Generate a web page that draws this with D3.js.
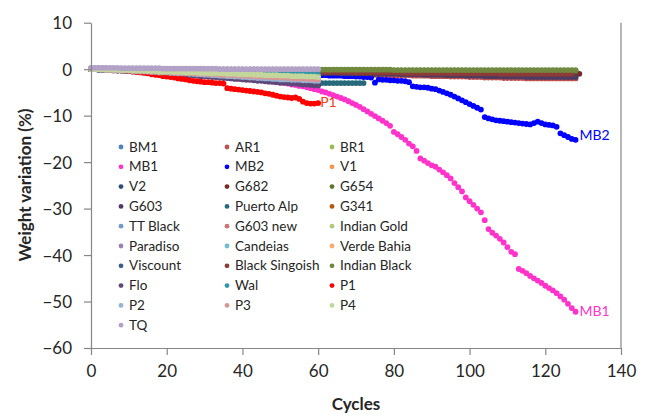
<!DOCTYPE html>
<html><head><meta charset="utf-8">
<script src="https://cdn.jsdelivr.net/npm/d3@7"></script>
<style>body{margin:0;background:#fff}svg{display:block;font-family:Lato,"Open Sans",sans-serif}</style>
</head><body><svg id="c" width="646" height="417"></svg>
<script>
// ---- data: weight variation (%) per cycle, index = cycle number ----
const seriesNames = ["BM1","AR1","BR1","MB1","MB2","V1","V2","G682","G654","G603","Puerto Alp","G341","TT Black","G603 new","Indian Gold","Paradiso","Candeias","Verde Bahia","Viscount","Black Singoish","Indian Black","Flo","Wal","P1","P2","P3","P4","TQ"];
const seriesColors = ["#4F81BD","#C0504D","#9BBB59","#FF33CC","#0000FF","#F79646","#2C4D75","#772C2A","#5F7530","#4D3B62","#276A7C","#B65708","#729ACA","#CD7371","#AFC97A","#9983B5","#6FBDD1","#F9AB6B","#3A5F8B","#8E3B38","#71893F","#5E4878","#3296AB","#FF0000","#95B3D7","#D99694","#C3D69B","#B3A2C7"];
const xTicks = [0,20,40,60,80,100,120,140];
const yTicks = [10,0,-10,-20,-30,-40,-50,-60];

const BM1 = [0,0,0,0,0,0,-.1,-.1,-.1,-.1,-.1,-.2,-.2,-.2,-.2,-.2,-.3,-.3,-.3,-.3,-.3,-.4,-.4,-.4,-.4,-.4,-.5,-.5,-.5,-.5,-.5,-.6,-.6,-.6,-.6,-.6,-.7,-.7,-.7,-.7,-.7,-.8,-.8,-.8,-.8,-.8,-.8,-.9,-.9,-.9,-.9,-.9,-.9,-1,-1,-1,-1,-1,-1,-1,-1];
const AR1 = [0,0,0,0,0,0,0,-.1,-.1,-.1,-.1,-.1,-.1,-.2,-.2,-.2,-.2,-.2,-.3,-.3,-.3,-.3,-.3,-.4,-.4,-.4,-.4,-.4,-.5,-.5,-.5,-.5,-.5,-.6,-.6,-.6,-.6,-.6,-.7,-.7,-.7,-.7,-.7,-.7,-.8,-.8,-.8,-.8,-.8,-.8,-.9,-.9,-.9,-.9,-.9,-.9,-1,-1,-1,-1,-1,-1,-1,-1,-1.1,-1.1,-1.1,-1.1,-1.1,-1.1,-1.1,-1.1,-1.2,-1.2,-1.2,-1.2,-1.2,-1.2,-1.2,-1.3,-1.3,-1.3,-1.3,-1.3,-1.3,-1.4,-1.4,-1.4,-1.4,-1.4,-1.5,-1.5,-1.5,-1.5,-1.5,-1.6,-1.6,-1.6,-1.6,-1.6,-1.7,-1.7,-1.7,-1.7,-1.8,-1.8,-1.8,-1.8,-1.8,-1.9,-1.9,-1.9,-1.9,-1.9,-1.9,-2,-2,-2,-2,-2,-2,-2,-2,-2,-2,-2,-2,-2,-2];
const BR1 = [0,0,0,0,0,0,0,0,0,0,0,0,0,0,0,0,0,0,0,0,0,0,0,0,0,-.1,-.1,-.1,-.1,-.1,-.1,-.1,-.1,-.1,-.1,-.1,-.1,-.1,-.1,-.1,-.1,-.1,-.1,-.1,-.1,-.2,-.2,-.2,-.2,-.2,-.2,-.2,-.2,-.2,-.2,-.2,-.2,-.2,-.2,-.2,-.2,-.2,-.2,-.2,-.2,-.2,-.2,-.2,-.2,-.2,-.2,-.2,-.2,-.2,-.2,-.3,-.3,-.3,-.3,-.3,-.3,-.3,-.3,-.3,-.3,-.3,-.3,-.3,-.3,-.3,-.3,-.3,-.3,-.3,-.3,-.3,-.3,-.3,-.3,-.3,-.3,-.3,-.3,-.3,-.3,-.3,-.3,-.3,-.3,-.3,-.3,-.3,-.3,-.3,-.3,-.3,-.3,-.3,-.3,-.3,-.3,-.3,-.3,-.3,-.3,-.3,-.3,-.3,-.3];
const MB1 = [0,0,.1,.1,0,0,-.1,-.1,-.2,-.2,-.3,-.3,-.4,-.4,-.5,-.5,-.6,-.6,-.7,-.8,-.8,-.9,-.9,-1,-1,-1.1,-1.2,-1.2,-1.3,-1.3,-1.4,-1.5,-1.5,-1.6,-1.7,-1.7,-1.8,-1.9,-1.9,-2,-2.1,-2.1,-2.2,-2.3,-2.3,-2.4,-2.5,-2.6,-2.7,-2.8,-2.9,-3,-3.1,-3.3,-3.4,-3.6,-3.7,-3.9,-4.1,-4.3,-4.5,-4.8,-5,-5.3,-5.6,-5.9,-6.2,-6.5,-6.9,-7.3,-7.7,-8.1,-8.6,-9.1,-9.6,-10.1,-10.6,-11.1,-11.6,-12.2,-13.5,-14,-14.6,-15.2,-16,-16.6,-17.6,-19.2,-19.7,-20.2,-20.7,-21,-21.6,-22.2,-22.8,-23.5,-24.5,-25.4,-26.3,-27.6,-28.4,-29.2,-30,-30.8,-32.5,-34.4,-35.2,-35.8,-36.5,-37.3,-38.3,-39.3,-39.8,-43,-43.4,-43.9,-44.5,-45,-45.5,-46,-46.6,-47.1,-47.6,-48.2,-48.9,-49.6,-50.5,-51.4,-52.2];
const MB2 = [0,0,0,0,0,-.1,-.1,-.1,-.1,-.1,-.2,-.2,-.2,-.2,-.3,-.3,-.3,-.3,-.4,-.4,-.4,-.4,-.5,-.5,-.5,-.5,-.6,-.6,-.6,-.6,-.7,-.7,-.7,-.7,-.8,-.8,-.8,-.8,-.9,-.9,-.9,-.9,-1,-1,-1,-1,-1,-1.1,-1.1,-1.1,-1.1,-1.1,-1.2,-1.2,-1.2,-1.2,-1.2,-1.2,-1.3,-1.3,-1.3,-1.3,-1.3,-1.4,-1.4,-1.4,-1.4,-1.5,-1.5,-1.5,-1.6,-1.6,-1.7,-1.7,-1.8,-2.9,-2.2,-2.3,-2.3,-2.4,-2.4,-2.5,-2.5,-2.6,-2.8,-3.7,-3.8,-3.9,-3.9,-4,-4.2,-4.3,-4.6,-4.9,-5.2,-5.5,-5.9,-6.3,-6.7,-7.1,-7.5,-7.9,-8.3,-8.7,-10.3,-10.6,-10.8,-11,-11.1,-11.2,-11.3,-11.4,-11.5,-11.6,-11.7,-11.8,-11.9,-11.6,-11.3,-11.6,-11.9,-12,-12.1,-12.4,-13.8,-14.2,-14.6,-15,-15.2];
const V1 = [.1,.1,.1,.1,.1,.1,.1,0,0,0,0,0,0,0,0,0,0,0,0,0,-.1,-.1,-.1,-.1,-.1,-.1,-.1,-.1,-.1,-.1,-.1,-.1,-.1,-.1,-.2,-.2,-.2,-.2,-.2,-.2,-.2,-.2,-.2,-.2,-.2,-.2,-.2,-.3,-.3,-.3,-.3,-.3,-.3,-.3,-.3,-.3,-.3,-.3,-.3,-.3,-.3];
const V2 = [0,0,0,0,0,0,0,0,0,-.1,-.1,-.1,-.1,-.1,-.1,-.1,-.1,-.1,-.1,-.2,-.2,-.2,-.2,-.2,-.2,-.2,-.2,-.2,-.2,-.3,-.3,-.3,-.3,-.3,-.3,-.3,-.3,-.3,-.3,-.4,-.4,-.4,-.4,-.4,-.4,-.4,-.4,-.4,-.4,-.5,-.5,-.5,-.5,-.5,-.5,-.5,-.5,-.5,-.5,-.5,-.5,-.5,-.5,-.5,-.6,-.6,-.6,-.6,-.6,-.6,-.6,-.6,-.6,-.6,-.6,-.6,-.6,-.6,-.6,-.6,-.7,-.7,-.7,-.7,-.7,-.7,-.7,-.7,-.7,-.7,-.7,-.7,-.7,-.7,-.7,-.7,-.7,-.7,-.7,-.7,-.8,-.8,-.8,-.8,-.8,-.8,-.8,-.8,-.8,-.8,-.8,-.8,-.8,-.8,-.8,-.8,-.8,-.8,-.8,-.8,-.8,-.8,-.8,-.8,-.8,-.8,-.8,-.8,-.8];
const G682 = [0,0,0,0,0,0,0,0,0,0,0,0,-.1,-.1,-.1,-.1,-.1,-.1,-.1,-.1,-.1,-.1,-.1,-.1,-.2,-.2,-.2,-.2,-.2,-.2,-.2,-.2,-.2,-.2,-.2,-.2,-.3,-.3,-.3,-.3,-.3,-.3,-.3,-.3,-.3,-.3,-.3,-.3,-.4,-.4,-.4,-.4,-.4,-.4,-.4,-.4,-.4,-.4,-.4,-.5,-.5,-.5,-.5,-.5,-.5,-.5,-.5,-.5,-.5,-.5,-.5,-.5,-.5,-.5,-.6,-.6,-.6,-.6,-.6,-.6,-.6,-.6,-.6,-.6,-.6,-.7,-.7,-.7,-.7,-.7,-.7,-.7,-.7,-.7,-.7,-.8,-.8,-.8,-.8,-.8,-.8,-.8,-.8,-.8,-.8,-.8,-.9,-.9,-.9,-.9,-.9,-.9,-.9,-.9,-.9,-.9,-1,-1,-1,-1,-1,-1,-1,-1,-1,-1,-1,-1,-1,-1];
const G654 = [0,0,0,0,0,0,0,0,0,0,0,0,0,0,0,-.1,-.1,-.1,-.1,-.1,-.1,-.1,-.1,-.1,-.1,-.1,-.1,-.1,-.1,-.1,-.1,-.1,-.1,-.1,-.1,-.1,-.1,-.1,-.1,-.1,-.2,-.2,-.2,-.2,-.2,-.2,-.2,-.2,-.2,-.2,-.2,-.2,-.2,-.2,-.2,-.2,-.2,-.2,-.2,-.2,-.2,-.2,-.2,-.2,-.2,-.2,-.2,-.2,-.2,-.2,-.3,-.3,-.3,-.3,-.3,-.3,-.3,-.3,-.3,-.3,-.3,-.3,-.3,-.3,-.3,-.3,-.3,-.3,-.3,-.3,-.3,-.3,-.3,-.3,-.3,-.3,-.3,-.3,-.3,-.3,-.4,-.4,-.4,-.4,-.4,-.4,-.4,-.4,-.4,-.4,-.4,-.4,-.4,-.4,-.4,-.4,-.4,-.4,-.4,-.4,-.4,-.4,-.4,-.4,-.4,-.4,-.4,-.4,-.4];
const G603 = [0,0,0,0,0,0,0,0,0,0,-.1,-.1,-.1,-.1,-.1,-.1,-.1,-.1,-.1,-.2,-.2,-.2,-.2,-.2,-.2,-.2,-.2,-.3,-.3,-.3,-.3,-.3,-.3,-.3,-.3,-.4,-.4,-.4,-.4,-.4,-.4,-.4,-.5,-.5,-.5,-.5,-.5,-.5,-.5,-.6,-.6,-.6,-.6,-.6,-.6,-.7,-.7,-.7,-.7,-.7,-.8,-.8,-.8,-.8,-.8,-.8,-.9,-.9,-.9,-.9,-.9,-.9,-.9,-.9,-.9,-1,-1,-1,-1,-1,-1,-1,-1.1,-1.1,-1.1,-1.1,-1.1,-1.1,-1.2,-1.2,-1.2,-1.2,-1.2,-1.2,-1.3,-1.3,-1.3,-1.3,-1.3,-1.4,-1.4,-1.4,-1.4,-1.4,-1.5,-1.5,-1.5,-1.5,-1.5,-1.6,-1.6,-1.6,-1.6,-1.6,-1.6,-1.7,-1.7,-1.7,-1.7,-1.7,-1.7,-1.7,-1.7,-1.7,-1.7,-1.7,-1.7,-1.7,-1.7];
const PuertoAlp = [0,0,0,-.1,-.1,-.1,-.2,-.2,-.2,-.3,-.3,-.3,-.4,-.4,-.5,-.5,-.5,-.6,-.6,-.7,-.7,-.7,-.8,-.8,-.9,-.9,-1,-1,-1.1,-1.1,-1.2,-1.2,-1.3,-1.3,-1.4,-1.4,-1.5,-1.5,-1.6,-1.6,-1.7,-1.8,-1.8,-1.9,-2,-2,-2.1,-2.2,-2.2,-2.3,-2.4,-2.4,-2.5,-2.6,-2.6,-2.7,-2.8,-2.8,-2.9,-2.9,-3,-3,-3,-3,-3,-3,-3,-3,-3,-3,-3,-3,-3];
const G341 = [0,0,0,0,0,0,0,0,0,0,0,0,-.1,-.1,-.1,-.1,-.1,-.1,-.1,-.1,-.1,-.1,-.2,-.2,-.2,-.2,-.2,-.2,-.2,-.2,-.2,-.2,-.3,-.3,-.3,-.3,-.3,-.3,-.3,-.3,-.3,-.4,-.4,-.4,-.4,-.4,-.4,-.4,-.4,-.4,-.4,-.5,-.5,-.5,-.5,-.5,-.5,-.5,-.5,-.5,-.5];
const TTBlack = [0,0,0,0,0,0,0,-.1,-.1,-.1,-.1,-.1,-.1,-.1,-.2,-.2,-.2,-.2,-.2,-.2,-.3,-.3,-.3,-.3,-.3,-.3,-.3,-.4,-.4,-.4,-.4,-.4,-.4,-.5,-.5,-.5,-.5,-.5,-.5,-.5,-.6,-.6,-.6,-.6,-.6,-.6,-.6,-.7,-.7,-.7,-.7,-.7,-.7,-.7,-.8,-.8,-.8,-.8,-.8,-.8,-.8];
const G603new = [0,0,0,-.1,-.1,-.1,-.2,-.2,-.2,-.3,-.3,-.3,-.4,-.4,-.4,-.5,-.5,-.6,-.6,-.6,-.7,-.7,-.8,-.8,-.8,-.9,-.9,-1,-1,-1,-1.1,-1.1,-1.2,-1.2,-1.3,-1.3,-1.3,-1.4,-1.4,-1.5,-1.5,-1.5,-1.6,-1.6,-1.7,-1.7,-1.7,-1.8,-1.8,-1.9,-1.9,-1.9,-2,-2,-2.1,-2.1,-2.1,-2.2,-2.2,-2.3,-2.3];
const IndianGold = [0,0,0,0,0,-.1,-.1,-.1,-.1,-.2,-.2,-.2,-.2,-.3,-.3,-.3,-.3,-.4,-.4,-.4,-.4,-.5,-.5,-.5,-.5,-.6,-.6,-.6,-.6,-.7,-.7,-.7,-.7,-.8,-.8,-.8,-.8,-.9,-.9,-.9,-.9,-1,-1,-1,-1,-1.1,-1.1,-1.1,-1.1,-1.2,-1.2,-1.2,-1.2,-1.2,-1.3,-1.3,-1.3,-1.3,-1.3,-1.3,-1.3];
const Paradiso = [.2,.2,.2,.2,.2,.1,.1,.1,.1,.1,.1,.1,.1,.1,.1,0,0,0,0,0,0,0,0,0,0,0,0,0,0,0,-.1,-.1,-.1,-.1,-.1,-.1,-.1,-.1,-.1,-.1,-.2,-.2,-.2,-.2,-.2,-.2,-.2,-.2,-.2,-.2,-.2,-.3,-.3,-.3,-.3,-.3,-.3,-.3,-.3,-.3,-.3];
const Candeias = [0,0,0,0,0,0,-.1,-.1,-.1,-.1,-.1,-.2,-.2,-.2,-.2,-.2,-.3,-.3,-.3,-.3,-.3,-.4,-.4,-.4,-.4,-.4,-.5,-.5,-.5,-.5,-.5,-.6,-.6,-.6,-.6,-.6,-.7,-.7,-.7,-.7,-.7,-.8,-.8,-.8,-.8,-.8,-.9,-.9,-.9,-.9,-.9,-1,-1,-1,-1,-1,-1.1,-1.1,-1.1,-1.1,-1.1];
const VerdeBahia = [0,0,0,0,-.1,-.1,-.1,-.2,-.2,-.2,-.3,-.3,-.3,-.4,-.4,-.4,-.5,-.5,-.5,-.6,-.6,-.6,-.7,-.7,-.7,-.8,-.8,-.8,-.9,-.9,-.9,-1,-1,-1,-1.1,-1.1,-1.1,-1.2,-1.2,-1.2,-1.3,-1.3,-1.3,-1.4,-1.4,-1.4,-1.5,-1.5,-1.5,-1.6,-1.6,-1.6,-1.7,-1.7,-1.7,-1.8,-1.8,-1.8,-1.9,-1.9,-2];
const Viscount = [0,0,-.1,-.1,-.1,-.2,-.2,-.3,-.3,-.3,-.4,-.4,-.5,-.5,-.6,-.6,-.7,-.7,-.8,-.8,-.9,-.9,-1,-1,-1.1,-1.1,-1.2,-1.2,-1.3,-1.3,-1.4,-1.5,-1.5,-1.6,-1.6,-1.7,-1.8,-1.8,-1.9,-1.9,-2,-2.1,-2.1,-2.2,-2.3,-2.3,-2.4,-2.5,-2.5,-2.6,-2.7,-2.7,-2.8,-2.9,-2.9,-3,-3.1,-3.1,-3.2,-3.3,-3.3];
const BlackSingoish = [0,0,0,0,0,0,0,0,0,0,0,0,0,0,-.1,-.1,-.1,-.1,-.1,-.1,-.1,-.1,-.1,-.1,-.1,-.1,-.2,-.2,-.2,-.2,-.2,-.2,-.2,-.2,-.2,-.2,-.3,-.3,-.3,-.3,-.3,-.3,-.3,-.3,-.3,-.4,-.4,-.4,-.4,-.4,-.4,-.4,-.4,-.5,-.5,-.5,-.5,-.5,-.5,-.6,-.6,-.6,-.6,-.6,-.6,-.6,-.6,-.6,-.6,-.6,-.7,-.7,-.7,-.7,-.7,-.7,-.7,-.7,-.7,-.7,-.7,-.7,-.7,-.8,-.8,-.8,-.8,-.8,-.8,-.8,-.8,-.8,-.8,-.8,-.8,-.9,-.9,-.9,-.9,-.9,-.9,-.9,-.9,-.9,-.9,-.9,-.9,-.9,-1,-1,-1,-1,-1,-1,-1,-1,-1,-1,-1,-1,-1,-1,-1,-1,-1,-1,-1,-1];
const IndianBlack = [0,0,0,0,0,0,0,0,0,0,0,0,0,0,0,0,0,0,0,0,0,0,0,0,0,0,0,0,0,0,-.1,-.1,-.1,-.1,-.1,-.1,-.1,-.1,-.1,-.1,-.1,-.1,-.1,-.1,-.1,-.1,-.1,-.1,-.1,-.1,-.1,-.1,-.1,-.1,-.1,-.1,-.1,-.1,-.1,-.1,-.1,-.1,-.1,-.1,-.1,-.1,-.1,-.1,-.1,-.1,-.1,-.1,-.1,-.1,-.1,-.1,-.1,-.1,-.1,-.1,-.2,-.2,-.2,-.2,-.2,-.2,-.2,-.2,-.2,-.2,-.2,-.2,-.2,-.2,-.2,-.2,-.2,-.2,-.2,-.2,-.2,-.2,-.2,-.2,-.2,-.2,-.2,-.2,-.2,-.2,-.2,-.2,-.2,-.2,-.2,-.2,-.2,-.2,-.2,-.2,-.2,-.2,-.2,-.2,-.2,-.2,-.2,-.2,-.2];
const Flo = [0,0,-.1,-.1,-.2,-.2,-.3,-.3,-.3,-.4,-.4,-.5,-.5,-.6,-.6,-.7,-.7,-.8,-.8,-.9,-.9,-1,-1,-1.1,-1.2,-1.2,-1.3,-1.3,-1.4,-1.5,-1.5,-1.6,-1.7,-1.7,-1.8,-1.9,-1.9,-2,-2.1,-2.1,-2.2,-2.3,-2.3,-2.4,-2.5,-2.5,-2.6,-2.7,-2.7,-2.8,-2.9,-2.9,-3,-3.1,-3.1,-3.2,-3.3,-3.3,-3.4,-3.5,-3.5];
const Wal = [0,0,0,0,0,-.1,-.1,-.1,-.1,-.1,-.2,-.2,-.2,-.2,-.2,-.3,-.3,-.3,-.3,-.3,-.4,-.4,-.4,-.4,-.4,-.5,-.5,-.5,-.5,-.5,-.6,-.6,-.6,-.6,-.6,-.7,-.7,-.7,-.7,-.7,-.8,-.8,-.8,-.8,-.8,-.9,-.9,-.9,-.9,-1,-1,-1,-1,-1.1,-1.1,-1.1,-1.1,-1.2,-1.2,-1.2,-1.2];
const P1 = [0,0,0,0,-.1,-.1,-.2,-.2,-.3,-.3,-.4,-.5,-.6,-.7,-.8,-.9,-1.1,-1.2,-1.3,-1.5,-1.6,-1.7,-1.8,-2,-2.1,-2.2,-2.4,-2.5,-2.6,-2.7,-2.8,-2.8,-2.9,-3,-3,-3.1,-4.1,-4.2,-4.3,-4.4,-4.5,-4.6,-4.7,-4.8,-4.9,-5,-5.2,-5.3,-5.5,-5.7,-5.9,-6,-6.1,-6.2,-6.1,-6.4,-7,-7.3,-7.4,-7.4,-7.3];
const P2 = [0,0,0,-.1,-.1,-.1,-.2,-.2,-.3,-.3,-.3,-.4,-.4,-.5,-.5,-.5,-.6,-.6,-.7,-.7,-.7,-.8,-.8,-.9,-.9,-.9,-1,-1,-1.1,-1.1,-1.2,-1.2,-1.3,-1.3,-1.4,-1.4,-1.5,-1.5,-1.6,-1.6,-1.7,-1.7,-1.8,-1.8,-1.9,-1.9,-2,-2,-2.1,-2.1,-2.2,-2.2,-2.2,-2.3,-2.3,-2.3,-2.4,-2.4,-2.4,-2.5,-2.5];
const P3 = [0,0,0,0,-.1,-.1,-.1,-.2,-.2,-.2,-.3,-.3,-.3,-.4,-.4,-.4,-.5,-.5,-.5,-.6,-.6,-.6,-.7,-.7,-.8,-.8,-.8,-.9,-.9,-1,-1,-1,-1.1,-1.1,-1.2,-1.2,-1.2,-1.3,-1.3,-1.4,-1.4,-1.4,-1.5,-1.5,-1.6,-1.6,-1.6,-1.7,-1.7,-1.8,-1.8,-1.8,-1.9,-1.9,-2,-2,-2,-2.1,-2.1,-2.2,-2.2];
const P4 = [0,0,0,0,-.1,-.1,-.1,-.1,-.2,-.2,-.2,-.3,-.3,-.3,-.3,-.4,-.4,-.4,-.5,-.5,-.5,-.5,-.6,-.6,-.6,-.7,-.7,-.7,-.7,-.8,-.8,-.8,-.9,-.9,-.9,-.9,-1,-1,-1,-1.1,-1.1,-1.1,-1.1,-1.2,-1.2,-1.2,-1.3,-1.3,-1.3,-1.3,-1.4,-1.4,-1.4,-1.5,-1.5,-1.5,-1.5,-1.6,-1.6,-1.6,-1.7];
const TQ = [.2,.3,.3,.3,.3,.3,.3,.3,.2,.2,.2,.2,.2,.2,.2,.2,.2,.2,.2,.1,.1,.1,.1,.1,.1,.1,.1,.1,.1,.1,.1,.1,.1,.1,0,0,0,0,0,0,0,0,0,0,0,0,0,0,0,0,0,0,0,0,0,0,0,0,0,0,0];

const seriesValues = [BM1,AR1,BR1,MB1,MB2,V1,V2,G682,G654,G603,PuertoAlp,G341,TTBlack,G603new,IndianGold,Paradiso,Candeias,VerdeBahia,Viscount,BlackSingoish,IndianBlack,Flo,Wal,P1,P2,P3,P4,TQ];
const endLabels = [{name:"MB1",color:"#FF33CC"},{name:"MB2",color:"#0000FF"},{name:"P1",color:"#F0401A"}];

// ---- drawing ----
const svg = d3.select("#c");
const x = d3.scaleLinear().domain([0,140]).range([91,621]);
const y = d3.scaleLinear().domain([-60,10]).range([348,22.7]);
const axisColor = "#868686", textColor = "#262626";

// series points
seriesValues.forEach((vals,i)=>{
  svg.append("g").selectAll("circle").data(vals).join("circle")
    .attr("cx",(d,k)=>x(k)).attr("cy",d=>y(d)).attr("r",2.9)
    .attr("fill",seriesColors[i]);
});

// axes
const yAxis = svg.append("g").attr("transform","translate(91,0)")
  .call(d3.axisLeft(y).tickValues(yTicks).tickSize(7).tickSizeOuter(0).tickFormat(d3.format("d")));
const xAxis = svg.append("g").attr("transform","translate(0,348)")
  .call(d3.axisBottom(x).tickValues(xTicks).tickSize(7).tickSizeOuter(0));
[yAxis,xAxis].forEach(a=>{
  a.select(".domain").attr("stroke",axisColor).attr("stroke-width",1.2);
  a.selectAll(".tick line").attr("stroke",axisColor).attr("stroke-width",1.2);
  a.selectAll("text").attr("fill",textColor).style("font-size","17px").style("font-family","Lato, 'Open Sans', sans-serif");
});
yAxis.selectAll("text").attr("x",-19).attr("dy","0.35em");
xAxis.selectAll("text").attr("y",17).attr("dy","0.71em");
// right border line
svg.append("line").attr("x1",x(140)).attr("x2",x(140)).attr("y1",y(10)).attr("y2",y(-60))
  .attr("stroke",axisColor).attr("stroke-width",1.2);

// axis titles
svg.append("text").attr("x",356).attr("y",410).attr("text-anchor","middle")
  .attr("fill",textColor).style("font-size","17px").style("font-weight","bold").text("Cycles");
svg.append("text").attr("transform","translate(31,185) rotate(-90)").attr("text-anchor","middle")
  .attr("fill",textColor).style("font-size","17px").style("font-weight","bold").text("Weight variation (%)");

// end labels
const labelPos = {MB1:[MB1.length-1, MB1[MB1.length-1]], MB2:[MB2.length-1, MB2[MB2.length-1]], P1:[P1.length-1, P1[P1.length-1]]};
endLabels.forEach(l=>{
  const [cx,cy] = labelPos[l.name];
  svg.append("text").attr("x",x(cx)+ (l.name==="P1"?2:4)).attr("y",y(cy)+ (l.name==="MB2"?0:4))
    .attr("fill",l.color).style("font-size","14px").text(l.name);
});

// legend
const lg = svg.append("g");
const colX = [121,227,332];
seriesNames.forEach((n,i)=>{
  const col = i%3, row = Math.floor(i/3);
  const cy = 147 + row*19.8;
  lg.append("circle").attr("cx",colX[col]).attr("cy",cy).attr("r",2.4).attr("fill",seriesColors[i]);
  lg.append("text").attr("x",colX[col]+8).attr("y",cy+4.5).attr("fill",textColor)
    .style("font-size","13.5px").text(n);
});
</script></body></html>
